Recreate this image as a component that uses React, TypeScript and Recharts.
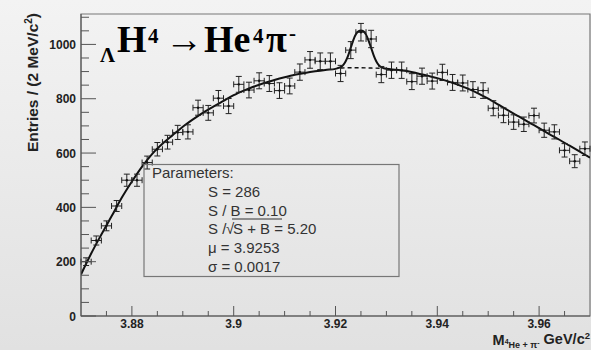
import React from 'react';
import { ComposedChart, Line, Scatter, ErrorBar, XAxis, YAxis, ReferenceArea } from 'recharts';

// histogram bins, 2 MeV wide
const binCenters = [
  3.871, 3.873, 3.875, 3.877, 3.879, 3.881, 3.883, 3.885, 3.887, 3.889,
  3.891, 3.893, 3.895, 3.897, 3.899, 3.901, 3.903, 3.905, 3.907, 3.909,
  3.911, 3.913, 3.915, 3.917, 3.919, 3.921, 3.923, 3.925, 3.927, 3.929,
  3.931, 3.933, 3.935, 3.937, 3.939, 3.941, 3.943, 3.945, 3.947, 3.949,
  3.951, 3.953, 3.955, 3.957, 3.959, 3.961, 3.963, 3.965, 3.967, 3.969,
];
const entries = [
  200, 278, 332, 405, 500, 500, 565, 614, 640, 676,
  678, 767, 748, 802, 773, 853, 832, 866, 856, 830,
  847, 898, 943, 938, 938, 893, 979, 1045, 1020, 889,
  905, 905, 863, 883, 865, 897, 860, 858, 834, 830,
  765, 739, 714, 706, 738, 684, 678, 610, 570, 616,
];
const halfBin = 0.001;

// signal + background fit
const fitMass = [
  3.870, 3.872, 3.874, 3.876, 3.878, 3.880, 3.882, 3.884, 3.886, 3.888,
  3.890, 3.892, 3.894, 3.896, 3.898, 3.900, 3.902, 3.904, 3.906, 3.908,
  3.910, 3.912, 3.914, 3.916, 3.918, 3.920,
  3.9205, 3.921, 3.9215, 3.922, 3.9225, 3.923, 3.9235, 3.924, 3.9245, 3.925,
  3.9255, 3.926, 3.9265, 3.927, 3.9275, 3.928, 3.9285, 3.929, 3.9295,
  3.930, 3.932, 3.934, 3.936, 3.938, 3.940, 3.942, 3.944, 3.946, 3.948,
  3.950, 3.952, 3.954, 3.956, 3.958, 3.960, 3.962, 3.964, 3.966, 3.968, 3.970,
];
const fitValues = [
  153, 230, 300, 367, 435, 495, 550, 597, 634, 666,
  697, 724, 749, 771, 792, 813, 830, 845, 858, 869,
  879, 888, 895, 901, 906, 910,
  913, 916, 924, 938, 960, 988, 1016, 1037, 1048, 1051,
  1048, 1036, 1014, 987, 960, 938, 924, 916, 912,
  910, 907, 902, 894, 885, 876, 865, 852, 837, 820,
  800, 778, 756, 735, 713, 692, 670, 649, 627, 605, 583,
];

// background only, under the peak
const bkgMass = [3.921, 3.923, 3.925, 3.927, 3.929];
const bkgValues = [913, 914, 914, 913, 912];

const xTicks = [
  3.875, 3.88, 3.885, 3.89, 3.895, 3.9, 3.905, 3.91, 3.915, 3.92,
  3.925, 3.93, 3.935, 3.94, 3.945, 3.95, 3.955, 3.96, 3.965,
];
const xMajor = [3.88, 3.9, 3.92, 3.94, 3.96];
const yTicks = [
  0, 50, 100, 150, 200, 250, 300, 350, 400, 450, 500, 550,
  600, 650, 700, 750, 800, 850, 900, 950, 1000, 1050, 1100,
];
const yMajor = [0, 200, 400, 600, 800, 1000];

const points = binCenters.map((x, i) => ({ x, y: entries[i], ex: halfBin, ey: Math.sqrt(entries[i]) }));
const fitData = fitMass.map((x, i) => ({ x, y: fitValues[i] }));
const bkgData = bkgMass.map((x, i) => ({ x, y: bkgValues[i] }));

const SANS = '"Liberation Sans", Arial, sans-serif';
const SERIF = '"Liberation Serif", "Times New Roman", serif';

const YTick = (props: any) => {
  const { x, y, payload } = props;
  const major = yMajor.includes(payload.value);
  return (
    <g>
      <line x1={x} x2={x + (major ? 15 : 8)} y1={y} y2={y} stroke="#555" strokeWidth={1} />
      {major && (
        <text x={x - 5} y={y + 4.5} textAnchor="end" fontFamily={SANS} fontWeight="bold" fontSize={12} fill="#222">
          {payload.value}
        </text>
      )}
    </g>
  );
};

const XTick = (props: any) => {
  const { x, y, payload } = props;
  const major = xMajor.some(v => Math.abs(v - payload.value) < 1e-6);
  return (
    <g>
      <line x1={x} x2={x} y1={y} y2={y - (major ? 10 : 5)} stroke="#555" strokeWidth={1} />
      {major && (
        <text x={x} y={y + 12} textAnchor="middle" fontFamily={SANS} fontWeight="bold" fontSize={12} fill="#222">
          {String(payload.value)}
        </text>
      )}
    </g>
  );
};

const Marker = (props: any) => <circle cx={props.cx} cy={props.cy} r={1.2} fill="#111" />;

export default function App() {
  return (
    <div
      style={{
        position: 'absolute',
        left: 0,
        top: 0,
        width: 591,
        height: 350,
        background: 'linear-gradient(to bottom, #f3f3f3, #e1e1e1)',
        overflow: 'hidden',
      }}
    >
      <style>{'body{margin:0}'}</style>
      <ComposedChart width={591} height={350} margin={{ top: 14, right: 1, bottom: 0, left: 0 }}>
        <XAxis
          dataKey="x"
          type="number"
          domain={[3.87, 3.97]}
          allowDataOverflow
          ticks={xTicks}
          interval={0}
          height={34}
          tickSize={0}
          tickMargin={0}
          tickLine={false}
          axisLine={{ stroke: '#555' }}
          tick={XTick}
        />
        <YAxis
          dataKey="y"
          type="number"
          domain={[0, 1112]}
          allowDataOverflow
          ticks={yTicks}
          interval={0}
          width={81}
          tickSize={0}
          tickMargin={0}
          tickLine={false}
          axisLine={{ stroke: '#555' }}
          tick={YTick}
        />
        <ReferenceArea x1={3.87} x2={3.97} y1={0} y2={1112} fill="none" stroke="#777" strokeWidth={1.2} ifOverflow="visible" />
        <Line data={bkgData} dataKey="y" type="monotone" stroke="#111" strokeWidth={1.4} strokeDasharray="4 3" dot={false} isAnimationActive={false} />
        <Line data={fitData} dataKey="y" type="monotone" stroke="#111" strokeWidth={2} dot={false} isAnimationActive={false} />
        <Scatter data={points} dataKey="y" shape={Marker} isAnimationActive={false}>
          <ErrorBar dataKey="ey" direction="y" width={3} stroke="#222" strokeWidth={1} isAnimationActive={false} />
          <ErrorBar dataKey="ex" direction="x" width={3} stroke="#222" strokeWidth={1} isAnimationActive={false} />
        </Scatter>
      </ComposedChart>

      <svg width={591} height={350} style={{ position: 'absolute', left: 0, top: 0, pointerEvents: 'none' }}>
        {/* title */}
        <g fontFamily={SERIF} fontWeight="bold" fill="#000">
          <text x={100} y={62} fontSize={21}>Λ</text>
          <text x={117} y={52} fontSize={38}>H</text>
          <text x={148} y={43} fontSize={21}>4</text>
          <text x={165} y={52} fontSize={38}>→</text>
          <text x={204} y={52} fontSize={38}>He</text>
          <text x={253} y={43} fontSize={21}>4</text>
          <text x={266} y={52} fontSize={38}>π</text>
          <text x={289} y={40} fontSize={21}>-</text>
        </g>

        {/* axis titles */}
        <text transform="translate(38,13) rotate(-90)" textAnchor="end" fontFamily={SANS} fontWeight="bold" fontSize={15.5} fill="#222">
          Entries / (2 MeV/c<tspan fontSize={10} dy={-6}>2</tspan><tspan dy={6}>)</tspan>
        </text>
        <text x={590} y={345} textAnchor="end" fontFamily={SANS} fontWeight="bold" fontSize={14.5} fill="#222">
          M<tspan fontSize={7} dy={-1}>4</tspan><tspan fontSize={9} dy={4}>He + π</tspan><tspan fontSize={7} dy={-3}>-</tspan><tspan dy={-1}> GeV/c</tspan><tspan fontSize={9.5} dy={-5}>2</tspan>
        </text>

        {/* fit parameters */}
        <rect x={144} y={164.5} width={255} height={112} fill="none" stroke="#777" strokeWidth={1.2} />
        <g fontFamily={SANS} fontSize={15} fill="#333">
          <text x={152} y={178}>Parameters:</text>
          <text x={208} y={197}>S = 286</text>
          <text x={208} y={215.5}>S / B = 0.10</text>
          <text x={208} y={234}>S /</text>
          <text x={226} y={234}>√</text>
          <text x={233} y={234}>S + B = 5.20</text>
          <text x={208} y={253}>μ = 3.9253</text>
          <text x={208} y={271.5}>σ = 0.0017</text>
        </g>
        <line x1={232} x2={282} y1={219} y2={219} stroke="#333" strokeWidth={1} />
      </svg>
    </div>
  );
}
